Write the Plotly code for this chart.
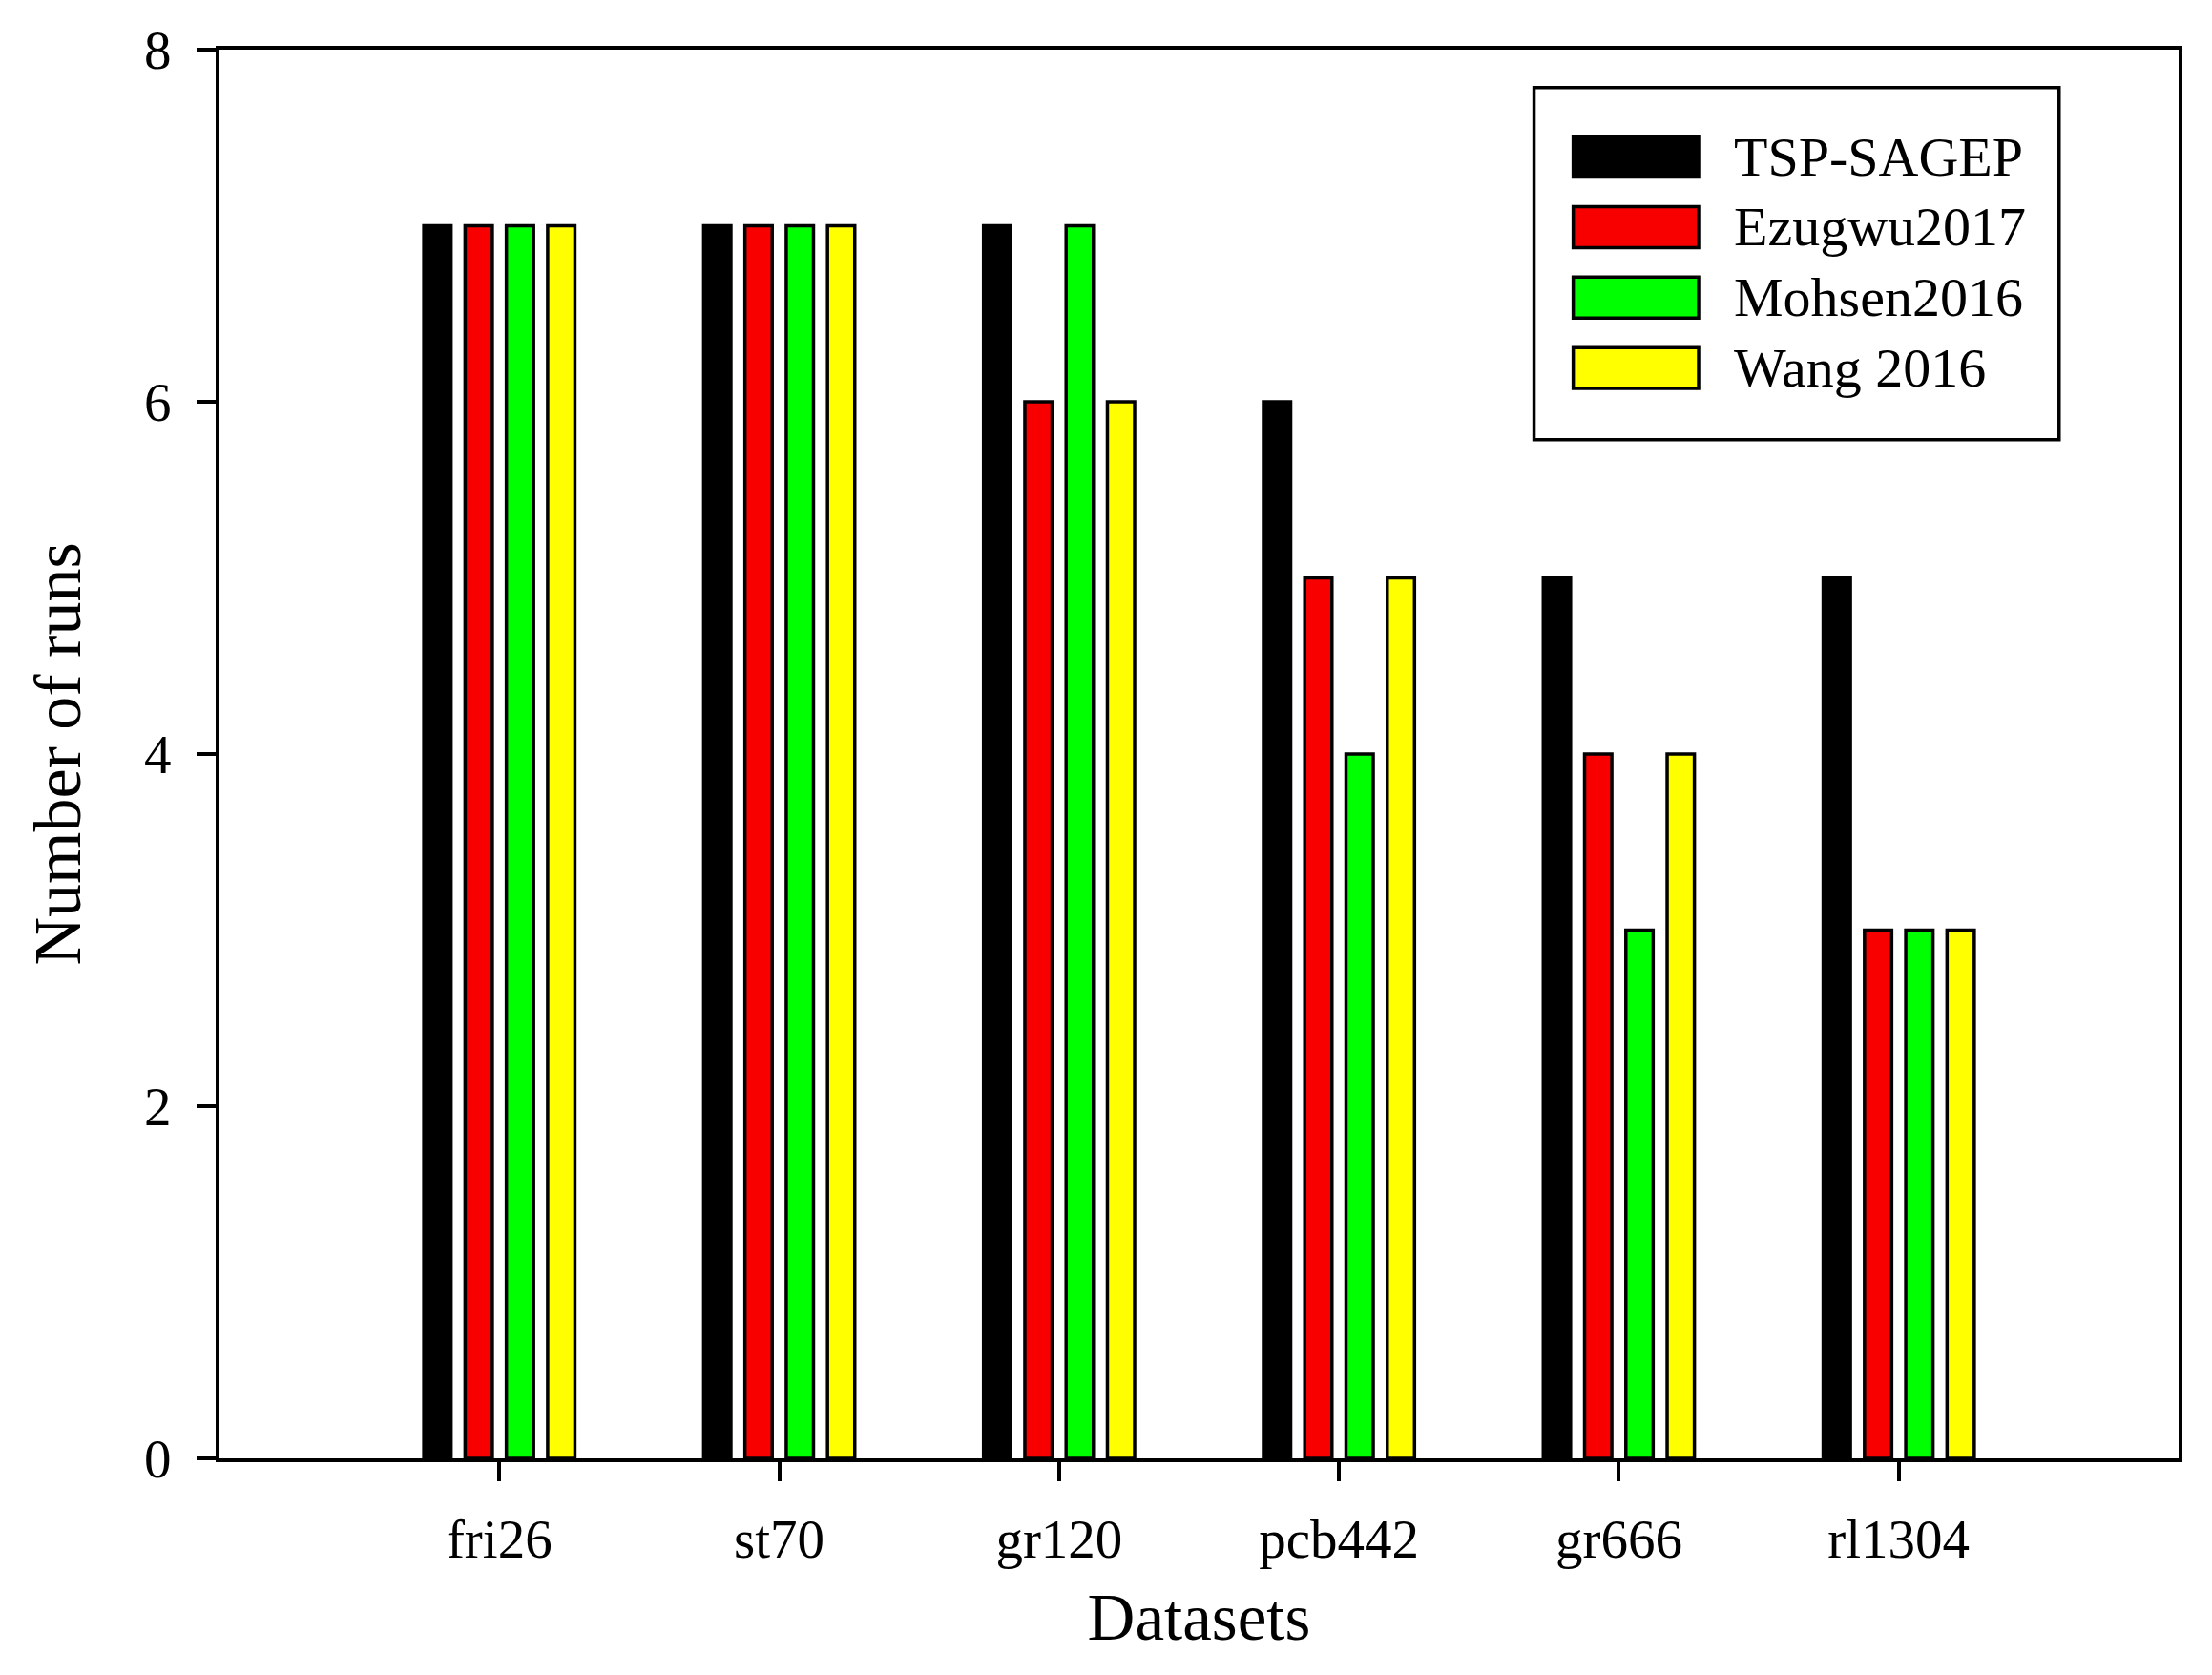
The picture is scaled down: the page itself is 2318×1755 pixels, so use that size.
import plotly.graph_objects as go

datasets = ["fri26", "st70", "gr120", "pcb442", "gr666", "rl1304"]
series_names = ["TSP-SAGEP", "Ezugwu2017", "Mohsen2016", "Wang 2016"]
tsp_sagep = [7, 7, 7, 6, 5, 5]
ezugwu2017 = [7, 7, 6, 5, 4, 3]
mohsen2016 = [7, 7, 7, 4, 3, 3]
wang2016 = [7, 7, 6, 5, 4, 3]
y_ticks = [0, 2, 4, 6, 8]

colors = ["#000000", "#F80000", "#00FF00", "#FFFF00"]
values = [tsp_sagep, ezugwu2017, mohsen2016, wang2016]

FONT = "Liberation Serif"

fig = go.Figure()
for name, vals, col in zip(series_names, values, colors):
    fig.add_trace(go.Bar(
        x=datasets, y=vals, name=name,
        marker=dict(color=col, line=dict(color="black", width=3.5)),
        showlegend=False,
    ))

# legend drawn as a box with large swatches, like the original
fig.add_shape(type="rect", xref="paper", yref="paper",
              x0=0.671, x1=0.939, y0=0.723, y1=0.973,
              line=dict(color="black", width=3.5), fillcolor="white", layer="above")
row_y = [0.924, 0.874, 0.824, 0.774]
for name, col, ry in zip(series_names, colors, row_y):
    fig.add_shape(type="rect", xref="paper", yref="paper",
                  x0=0.691, x1=0.755, y0=ry - 0.0145, y1=ry + 0.0145,
                  line=dict(color="black", width=3.5), fillcolor=col, layer="above")
    fig.add_annotation(x=0.772, y=ry, xref="paper", yref="paper", text=name,
                       showarrow=False, xanchor="left", yanchor="middle",
                       font=dict(family=FONT, size=58, color="black"))

fig.update_layout(
    width=2318, height=1755,
    margin=dict(l=222, r=43, t=44, b=235),
    barmode="group", bargap=0.41, bargroupgap=0.34,
    plot_bgcolor="white", paper_bgcolor="white",
    font=dict(family=FONT, size=57, color="black"),
)
fig.update_xaxes(
    range=[-1, 6], showgrid=False, zeroline=False,
    showline=True, linecolor="black", linewidth=4, mirror=True,
    ticks="outside", ticklen=20, tickwidth=3.5, tickcolor="black",
    ticklabelstandoff=12,
    title=dict(text="Datasets", font=dict(family=FONT, size=69), standoff=27),
)
fig.update_yaxes(
    range=[0, 8], tickvals=y_ticks, showgrid=False, zeroline=False,
    showline=True, linecolor="black", linewidth=4, mirror=True,
    ticks="outside", ticklen=20, tickwidth=3.5, tickcolor="black",
    ticklabelstandoff=15,
    title=dict(text="Number of runs", font=dict(family=FONT, size=70), standoff=45),
)

fig.write_html("out.html")
